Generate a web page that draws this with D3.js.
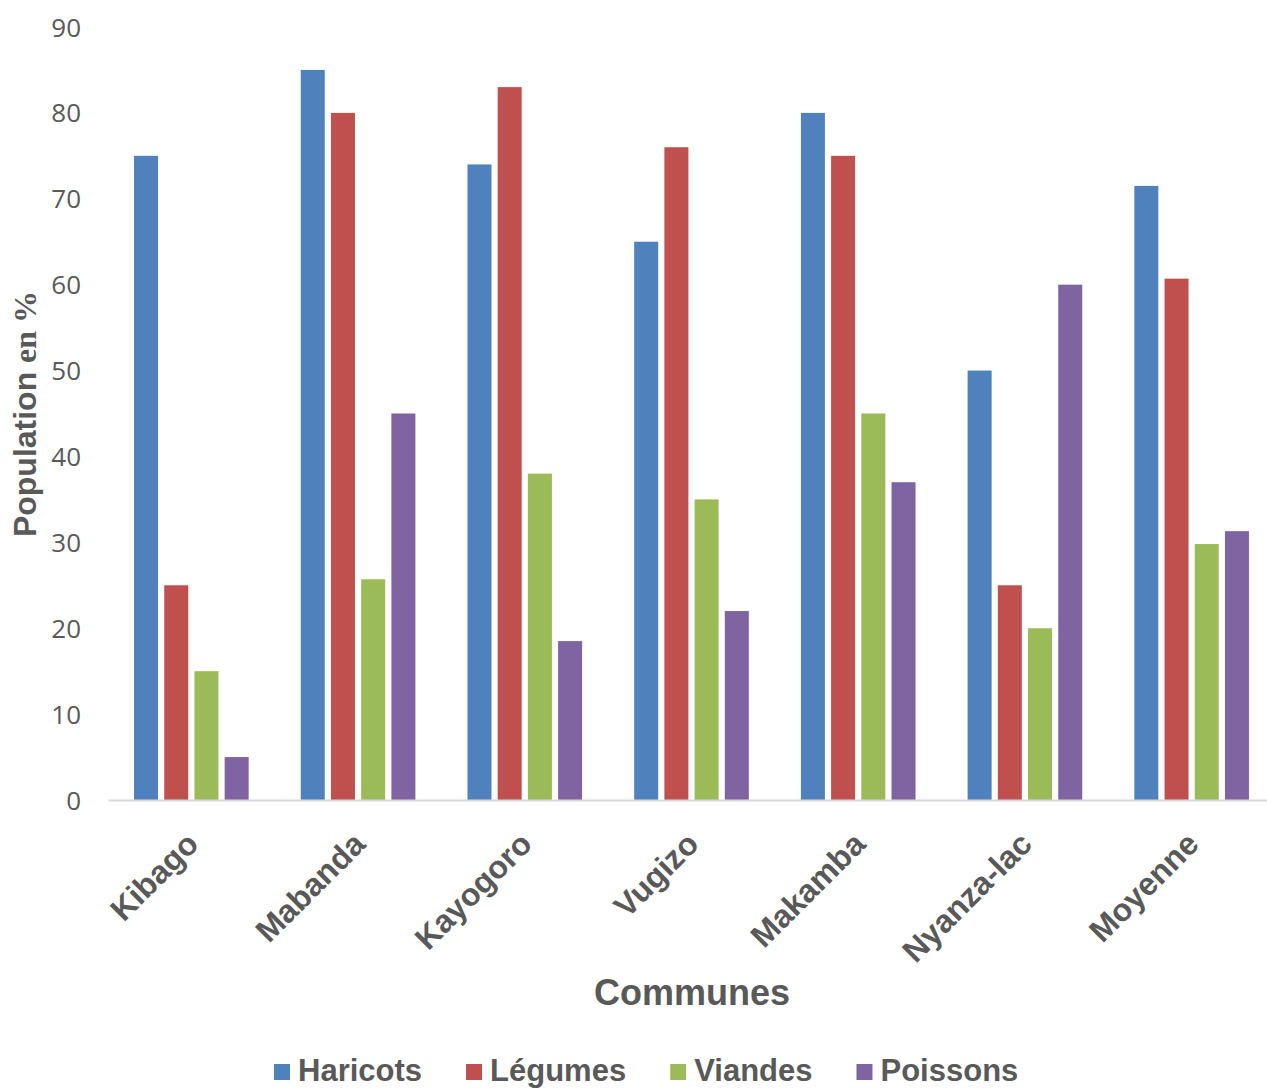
<!DOCTYPE html>
<html>
<head>
<meta charset="utf-8">
<script src="https://cdn.jsdelivr.net/npm/d3@7"></script>
<style>
  html, body { margin: 0; padding: 0; background: #ffffff; }
  svg { display: block; }
</style>
</head>
<body>
<svg id="chart" width="1267" height="1089"></svg>
<script>
// Food consumption by commune (% of population)
const communes = ["Kibago", "Mabanda", "Kayogoro", "Vugizo", "Makamba", "Nyanza-lac", "Moyenne"];
const seriesNames = ["Haricots", "Légumes", "Viandes", "Poissons"];
const haricots = [75, 85, 74, 65, 80, 50, 71.5];
const legumes  = [25, 80, 83, 76, 75, 25, 60.7];
const viandes  = [15, 25.7, 38, 35, 45, 20, 29.8];
const poissons = [5, 45, 18.5, 22, 37, 60, 31.3];
const yTicks = [0, 10, 20, 30, 40, 50, 60, 70, 80, 90];
const colors = ["#4F81BD", "#C0504D", "#9BBB59", "#8064A2"];

const values = [haricots, legumes, viandes, poissons];
const rows = communes.map((c, i) => ({
  commune: c,
  vals: seriesNames.map((s, k) => ({ series: s, value: values[k][i], k }))
}));

const svg = d3.select("#chart");
const textColor = "#595959";
const sans = "'Liberation Sans', Arial, sans-serif";

const x0 = d3.scaleBand().domain(communes).range([108, 1275]).paddingInner(0).paddingOuter(0);
const x1 = d3.scaleBand().domain(seriesNames).range([0, x0.bandwidth()])
  .paddingInner(0.205).paddingOuter(0.862);
const y = d3.scaleLinear().domain([0, 90]).range([800, 27]);

// Bars
const groups = svg.append("g").selectAll("g").data(rows).join("g")
  .attr("transform", d => `translate(${x0(d.commune)},0)`);
groups.selectAll("rect").data(d => d.vals).join("rect")
  .attr("x", d => x1(d.series))
  .attr("width", x1.bandwidth())
  .attr("y", d => y(d.value))
  .attr("height", d => y(0) - y(d.value))
  .attr("fill", d => colors[d.k]);

// Y axis (labels only)
const yAxis = d3.axisLeft(y).tickValues(yTicks).tickSize(0).tickPadding(0);
const yG = svg.append("g").attr("transform", "translate(81,0)").call(yAxis);
yG.select(".domain").remove();
yG.selectAll("text")
  .attr("fill", textColor)
  .style("font-family", "'Open Sans', sans-serif")
  .style("font-size", "26px")
  .attr("dy", "0.35em");

// X axis
const xAxis = d3.axisBottom(x0).tickSize(0).tickPadding(0);
const xG = svg.append("g").attr("transform", "translate(0,800)").call(xAxis);
xG.select(".domain").attr("stroke", "#d9d9d9").attr("stroke-width", 2);
xG.selectAll(".tick text")
  .attr("fill", textColor)
  .style("font-family", sans)
  .style("font-size", "32px")
  .style("font-weight", "bold")
  .attr("text-anchor", "end")
  .attr("dy", null)
  .attr("y", 0)
  .attr("transform", "translate(9,46) rotate(-45)");

// Axis titles
svg.append("text")
  .attr("x", 692).attr("y", 1005)
  .attr("text-anchor", "middle")
  .attr("fill", textColor)
  .style("font-family", sans)
  .style("font-size", "36px")
  .style("font-weight", "bold")
  .text("Communes");

const yTitle = svg.append("text")
  .attr("transform", "translate(36,414) rotate(-90)")
  .attr("text-anchor", "middle")
  .attr("fill", textColor)
  .style("font-weight", "bold")
  .style("font-size", "32px");
yTitle.append("tspan").style("font-family", sans).text("Population ");
yTitle.append("tspan").style("font-family", "'Liberation Serif', 'Times New Roman', serif").text("en %");

// Legend
const legend = svg.append("g");
let lx = 274;
seriesNames.forEach((s, k) => {
  legend.append("rect")
    .attr("x", lx).attr("y", 1064).attr("width", 16).attr("height", 16)
    .attr("fill", colors[k]);
  const t = legend.append("text")
    .attr("x", lx + 24).attr("y", 1081)
    .attr("fill", textColor)
    .style("font-family", sans)
    .style("font-size", "31px")
    .style("font-weight", "bold")
    .text(s);
  lx += 24 + t.node().getComputedTextLength() + 44;
});
</script>
</body>
</html>
